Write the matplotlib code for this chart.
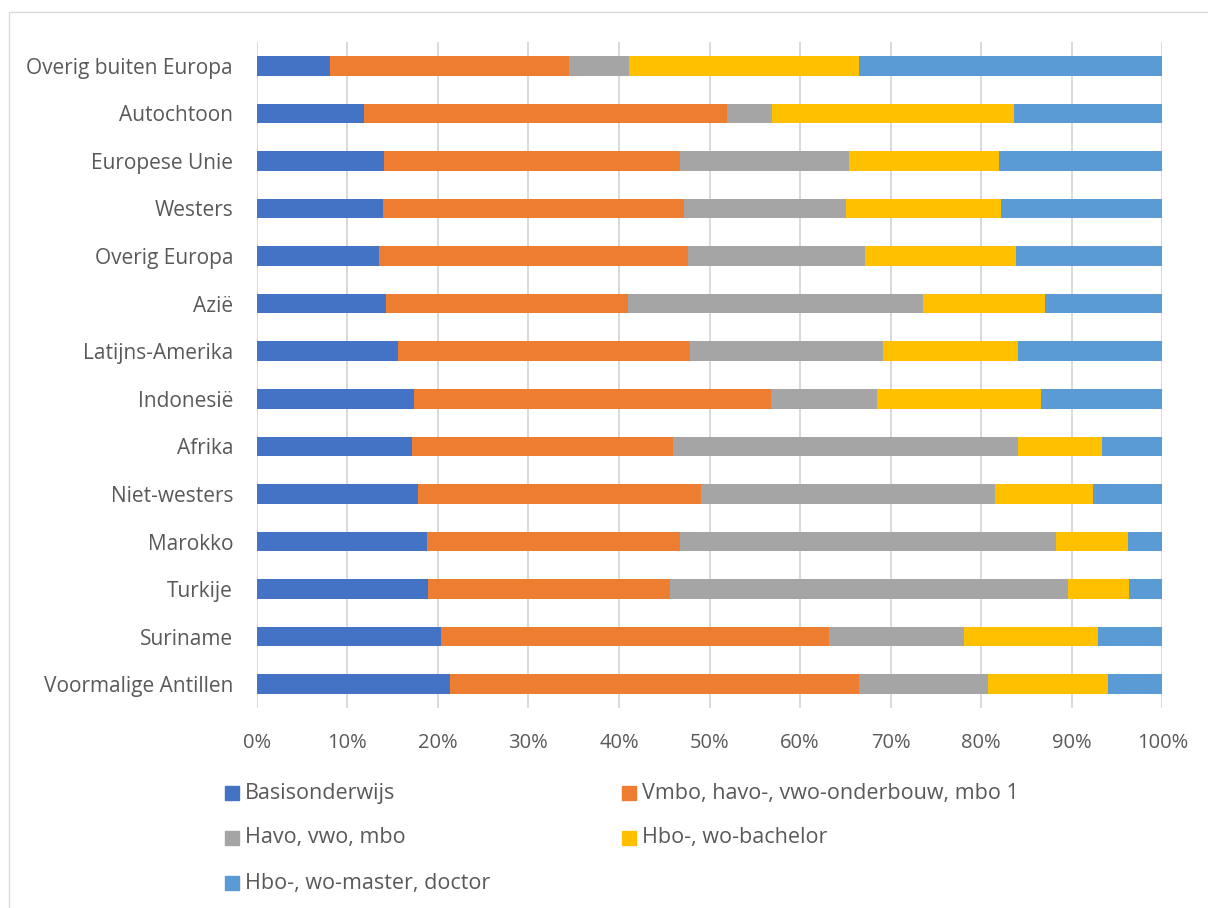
import matplotlib.pyplot as plt
from matplotlib.patches import Rectangle
from matplotlib.ticker import PercentFormatter

# Categories, bottom to top as drawn
categories = ['Voormalige Antillen', 'Suriname', 'Turkije', 'Marokko',
              'Niet-westers', 'Afrika', 'Indonesië', 'Latijns-Amerika',
              'Azië', 'Overig Europa', 'Westers', 'Europese Unie',
              'Autochtoon', 'Overig buiten Europa']

series_names = ['Basisonderwijs', 'Vmbo, havo-, vwo-onderbouw, mbo 1',
                'Havo, vwo, mbo', 'Hbo-, wo-bachelor',
                'Hbo-, wo-master, doctor']

basis = [21.4, 20.4, 18.9, 18.8, 17.8, 17.2, 17.4, 15.6, 14.3, 13.5, 14.0, 14.1, 11.9, 8.1]
vmbo = [45.1, 42.8, 26.7, 27.9, 31.3, 28.8, 39.4, 32.2, 26.7, 34.1, 33.2, 32.6, 40.0, 26.4]
havo = [14.3, 14.9, 44.0, 41.6, 32.4, 38.1, 11.7, 21.4, 32.6, 19.6, 17.9, 18.7, 5.0, 6.6]
bachelor = [13.2, 14.8, 6.7, 7.9, 10.9, 9.2, 18.1, 14.9, 13.5, 16.7, 17.1, 16.6, 26.7, 25.4]
master = [6.0, 7.1, 3.7, 3.8, 7.6, 6.7, 13.4, 15.9, 12.9, 16.1, 17.8, 18.0, 16.4, 33.5]

colors = ['#4472C4', '#ED7D31', '#A5A5A5', '#FFC000', '#5B9BD5']
text_color = '#595959'

plt.rcParams['font.family'] = ['Open Sans', 'DejaVu Sans']

W, H = 1208, 908
fig = plt.figure(figsize=(W / 100, H / 100), dpi=100)
ax = fig.add_axes([256.7 / W, 1 - 708 / H, (1162.3 - 256.7) / W, (708 - 42) / H])

# outer chart border
fig.patches.append(Rectangle((9 / W, -0.1), 1.2, 1 - 12 / H + 0.1,
                             transform=fig.transFigure, fill=False,
                             edgecolor='#D9D9D9', linewidth=1.0))

values = [basis, vmbo, havo, bachelor, master]
totals = [sum(v[i] for v in values) for i in range(len(categories))]
left = [0.0] * len(categories)
ypos = list(range(len(categories)))
for name, vals, col in zip(series_names, values, colors):
    share = [v / t * 100 for v, t in zip(vals, totals)]
    ax.barh(ypos, share, left=left, height=0.41, color=col, label=name,
            zorder=3)
    left = [l + s for l, s in zip(left, share)]

ax.set_xlim(0, 100)
ax.set_ylim(-0.5, len(categories) - 0.5)
ax.set_xticks(range(0, 101, 10))
ax.xaxis.set_major_formatter(PercentFormatter(decimals=0))
ax.set_yticks(ypos)
ax.set_yticklabels(categories)
ax.grid(axis='x', color='#D9D9D9', linewidth=1.4, zorder=0)
for s in ax.spines.values():
    s.set_visible(False)
ax.tick_params(axis='both', length=0, colors=text_color)
ax.tick_params(axis='y', pad=17, labelsize=15)
ax.tick_params(axis='x', pad=18, labelsize=14.5)

# legend, laid out in two columns like the original
for i, (name, col) in enumerate(zip(series_names, colors)):
    row, c = divmod(i, 2)
    mx = 225 if c == 0 else 622
    my = 793 + row * 45
    fig.patches.append(Rectangle((mx / W, 1 - (my + 7) / H), 14 / W, 14 / H,
                                 transform=fig.transFigure, color=col))
    fig.text((mx + 20) / W, 1 - my / H, name, ha='left', va='center',
             fontsize=15.5, color=text_color)

fig.savefig('out.png', dpi=100)
